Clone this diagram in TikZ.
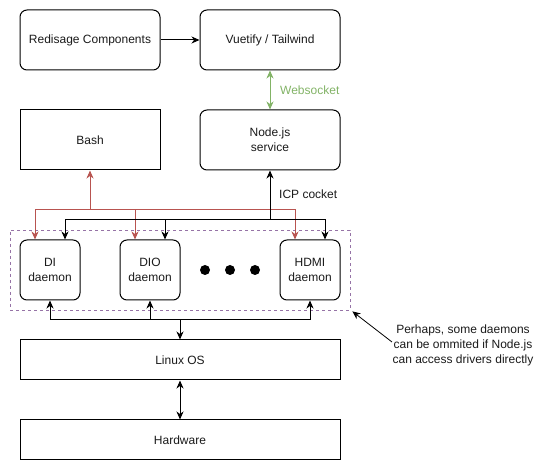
\documentclass[tikz,border=0pt]{standalone}
\usepackage{fontspec}
\setmainfont{Liberation Sans}
\usetikzlibrary{arrows.meta}
\definecolor{redl}{HTML}{B85450}
\definecolor{greenl}{HTML}{82B366}
\definecolor{purpl}{HTML}{9673A6}
\definecolor{txt}{HTML}{1A1A1A}
\tikzset{
  box/.style={draw, line width=1pt, minimum width=140pt, minimum height=60pt, inner sep=0pt, align=center, text=txt, font=\fontsize{12}{15}\selectfont},
  rbox/.style={box, rounded corners=7pt},
  dbox/.style={rbox, minimum width=60pt},
  wbox/.style={box, minimum width=320pt, minimum height=40pt},
  tip/.style={-{Stealth[length=8pt,width=7pt,inset=2.5pt]}},
  ttip/.style={{Stealth[length=8pt,width=7pt,inset=2.5pt]}-{Stealth[length=8pt,width=7pt,inset=2.5pt]}},
  barr/.style={tip, line width=1pt, black},
  rarr/.style={tip, line width=1pt, redl},
  dot/.style={circle, fill=black, minimum size=10pt, inner sep=0pt},
  lbl/.style={font=\fontsize{12}{15}\selectfont, inner sep=0pt},
}
\begin{document}
\begin{tikzpicture}[x=1pt,y=-1pt]
\useasboundingbox (0,0) rectangle (550,470);
\node[rbox] (red) at (90,40) {Redisage Components};
\node[rbox] (vue) at (270,40) {Vuetify / Tailwind};
\node[box] (bash) at (90,140) {Bash};
\node[rbox] (node) at (270,140) {Node.js\\service};
\node[draw=purpl, dash pattern=on 3pt off 3pt, line width=0.8pt, minimum width=340pt, minimum height=80pt, inner sep=0pt] (cont) at (180,270) {};
\node[dbox] (di) at (50,270) {DI\\daemon};
\node[dbox] (dio) at (150,270) {DIO\\daemon};
\node[dbox] (hdmi) at (310,270) {HDMI\\daemon};
\node[dot] (d1) at (205,270) {};
\node[dot] (d2) at (230,270) {};
\node[dot] (d3) at (255,270) {};
\node[wbox] (linux) at (180,360) {Linux OS};
\node[wbox] (hw) at (180,440) {Hardware};
\node[lbl, align=center, text=txt] (note) at (463,345) {Perhaps, some daemons\\can be ommited if Node.js\\can access drivers directly};
\node[lbl, anchor=west, text=greenl] (ws) at (280,90) {Websocket};
\node[lbl, anchor=west, text=txt] (icp) at (279,194) {ICP cocket};

\draw[barr] (red.east) -- (vue.west);
\draw[ttip, line width=1pt, greenl] (vue.south) -- (node.north);

\coordinate (rj) at (90,210);
\draw[rarr] (rj) -- (bash.south);
\draw[rarr] (rj) -| ([xshift=-15pt]di.north);
\draw[rarr] (rj) -| ([xshift=-15pt]dio.north);
\draw[rarr] (rj) -| ([xshift=-15pt]hdmi.north);

\coordinate (bj) at (270,220);
\draw[barr] (bj) -- (node.south);
\draw[barr] (bj) -| ([xshift=15pt]di.north);
\draw[barr] (bj) -| ([xshift=15pt]dio.north);
\draw[barr] (bj) -| ([xshift=15pt]hdmi.north);

\coordinate (lj) at (180,320);
\draw[barr] (lj) -- (linux.north);
\draw[barr] (lj) -| (di.south);
\draw[barr] (lj) -| (dio.south);
\draw[barr] (lj) -| (hdmi.south);

\draw[ttip, line width=1pt] (linux.south) -- (hw.north);

\coordinate (nt) at (392,342);
\draw[tip, line width=0.8pt] (nt) -- ([shift={(2pt,-1pt)}]cont.south east);
\end{tikzpicture}
\end{document}
